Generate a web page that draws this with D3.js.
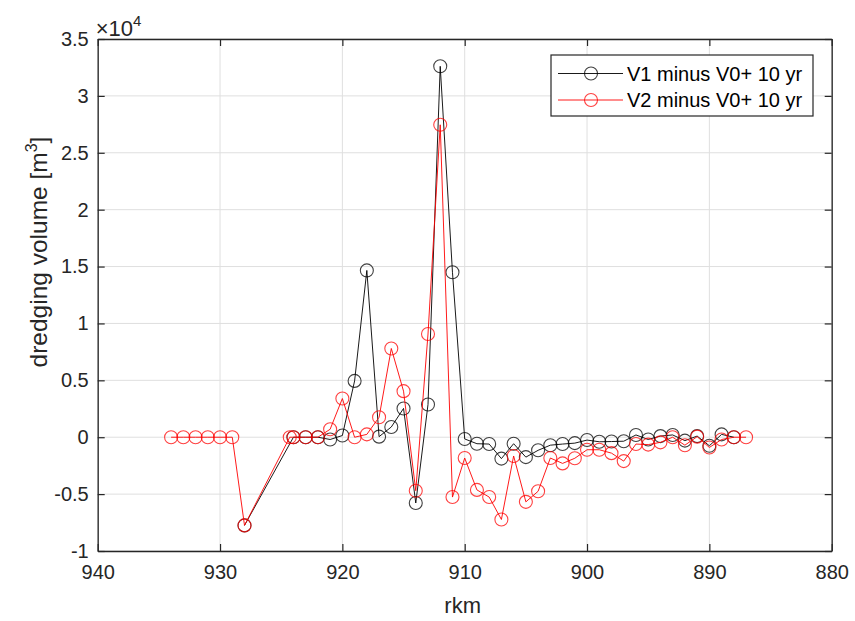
<!DOCTYPE html>
<html><head><meta charset="utf-8">
<script src="https://cdn.jsdelivr.net/npm/d3@7"></script>
<style>body{margin:0;background:#fff}svg{display:block}text{font-family:Arial,"Liberation Sans",Helvetica,sans-serif}</style>
</head><body>
<script>
const v1Km = [928,924,923,922,921,920,919,918,917,916,915,914,913,912,911,910,909,908,907,906,905,904,903,902,901,900,899,898,897,896,895,894,893,892,891,890,889,888];
const v1Val = [-7750,0,0,0,-200,150,4950,14660,50,900,2530,-5780,2880,32600,14500,-150,-570,-600,-1880,-570,-1750,-1150,-700,-600,-520,-250,-400,-380,-350,200,-200,100,200,-300,100,-750,250,0];
const v2Km = [934,933,932,931,930,929,928,924.3,924,923,922,921,920,919,918,917,916,915,914,913,912,911,910,909,908,907,906,905,904,903,902,901,900,899,898,897,896,895,894,893,892,891,890,889,888,887];
const v2Val = [0,0,0,0,0,0,-7750,0,0,0,0,700,3400,0,250,1750,7800,4050,-4700,9070,27460,-5260,-1830,-4630,-5260,-7230,-1650,-5680,-4750,-1830,-2300,-1850,-1100,-1100,-1400,-2100,-600,-650,-450,0,-700,50,-900,-200,0,0];
const xTicks = [940,930,920,910,900,890,880];
const yTicks = [-1,-0.5,0,0.5,1,1.5,2,2.5,3,3.5];
const seriesNames = ["V1 minus V0+ 10 yr","V2 minus V0+ 10 yr"];
const seriesColors = ["#000000","#ff0000"];

const W=855,H=621;
const L=97.7,R=831.7,T=39,B=551;
const svg=d3.select("body").append("svg").attr("width",W).attr("height",H);
const x=d3.scaleLinear().domain([940,880]).range([L,R]);
const y=d3.scaleLinear().domain([-1,3.5]).range([B,T]);
const axc="#262626";

// grid
svg.append("g").selectAll("line").data(xTicks).join("line")
  .attr("x1",d=>x(d)).attr("x2",d=>x(d)).attr("y1",T).attr("y2",B)
  .attr("stroke","#dfdfdf").attr("stroke-width",1);
svg.append("g").selectAll("line").data(yTicks).join("line")
  .attr("y1",d=>y(d)).attr("y2",d=>y(d)).attr("x1",L).attr("x2",R)
  .attr("stroke","#dfdfdf").attr("stroke-width",1);

// axes
const fs=20;
const xAxis=d3.axisBottom(x).tickValues(xTicks).tickSizeInner(-7).tickSizeOuter(0).tickPadding(14).tickFormat(d=>String(d));
const gx=svg.append("g").attr("transform",`translate(0,${B})`).call(xAxis);
const xAxisTop=d3.axisTop(x).tickValues(xTicks).tickSizeInner(-7).tickSizeOuter(0).tickFormat("");
const gxt=svg.append("g").attr("transform",`translate(0,${T})`).call(xAxisTop);
const yAxis=d3.axisLeft(y).tickValues(yTicks).tickSizeInner(-7).tickSizeOuter(0).tickPadding(9).tickFormat(d=>String(d));
const gy=svg.append("g").attr("transform",`translate(${L},0)`).call(yAxis);
const yAxisR=d3.axisRight(y).tickValues(yTicks).tickSizeInner(-7).tickSizeOuter(0).tickFormat("");
const gyr=svg.append("g").attr("transform",`translate(${R},0)`).call(yAxisR);
[gx,gxt,gy,gyr].forEach(g=>{
  g.selectAll("path.domain").attr("stroke",axc).attr("stroke-width",1.3);
  g.selectAll(".tick line").attr("stroke",axc).attr("stroke-width",1.2);
  g.selectAll("text").attr("fill",axc).style("font-size",fs+"px").attr("font-family","Arial, 'Liberation Sans', sans-serif");
});

// exponent
const ex=svg.append("text").attr("x",L-2).attr("y",36).attr("fill",axc).style("font-size","22px");
ex.append("tspan").text("\u00d710");
ex.append("tspan").attr("dy",-10).style("font-size","15px").text("4");

// axis labels
svg.append("text").attr("x",(L+R)/2 - 2).attr("y",613).attr("text-anchor","middle").attr("fill",axc).style("font-size","22px").text("rkm");
const yl=svg.append("text").attr("transform",`translate(47,252) rotate(-90)`).attr("text-anchor","middle").attr("fill",axc).style("font-size","24.5px");
yl.append("tspan").text("dredging volume [m");
yl.append("tspan").attr("dy",-10).style("font-size","16px").text("3");
yl.append("tspan").attr("dy",10).text("]");

// series
const series=[{km:v1Km,val:v1Val},{km:v2Km,val:v2Val}];
const line=d3.line().x(d=>x(d[0])).y(d=>y(d[1]/1e4));
series.forEach((s,i)=>{
  const pts=s.km.map((k,j)=>[k,s.val[j]]);
  const g=svg.append("g");
  g.append("path").datum(pts).attr("d",line).attr("fill","none").attr("stroke",seriesColors[i]).attr("stroke-width",0.9);
  g.selectAll("circle").data(pts).join("circle").attr("cx",d=>x(d[0])).attr("cy",d=>y(d[1]/1e4)).attr("r",6.5)
    .attr("fill","none").attr("stroke",seriesColors[i]).attr("stroke-width",1.1).attr("stroke-opacity",0.75);
});

// legend
const lg=svg.append("g");
lg.append("rect").attr("x",551).attr("y",55).attr("width",262).attr("height",61).attr("fill","#fff").attr("stroke",axc).attr("stroke-width",1.2);
seriesNames.forEach((n,i)=>{
  const cy=73.5+i*26.5;
  lg.append("line").attr("x1",558).attr("x2",623).attr("y1",cy).attr("y2",cy).attr("stroke",seriesColors[i]).attr("stroke-width",0.9);
  lg.append("circle").attr("cx",591).attr("cy",cy).attr("r",6.5).attr("fill","none").attr("stroke",seriesColors[i]).attr("stroke-width",1.1).attr("stroke-opacity",0.75);
  lg.append("text").attr("x",627).attr("y",cy+7).attr("fill","#000").style("font-size",fs+"px").text(n);
});
</script>
</body></html>
